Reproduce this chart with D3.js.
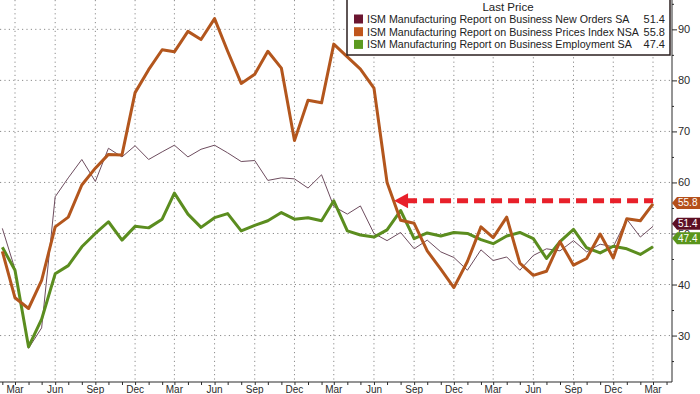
<!DOCTYPE html>
<html>
<head>
<meta charset="utf-8">
<script src="https://cdn.jsdelivr.net/npm/d3@7"></script>
<style>
  body { margin: 0; background: #fff; }
  svg { display: block; font-family: "Liberation Sans", Arial, sans-serif; }
  .grid line { stroke: #8c8c8c; stroke-dasharray: 1.2,3.2; }
  .axis text { fill: #2a2a2a; }
  .axis path, .axis line { stroke: #2a2a2a; }
</style>
</head>
<body>
<svg width="700" height="394"></svg>
<script>
// monthly readings, Feb 2020 .. Mar 2024
var startMonth = [2020, 1];

var newOrders = [
  51.0, 43.0, 27.5, 31.5, 57.2, 60.9, 64.5, 60.2, 66.7, 65.0, 67.2,
  64.5, 66.0, 67.3, 65.0, 66.5, 67.3, 65.8, 64.1, 64.3, 60.4, 60.9, 60.7,
  58.9, 61.5, 55.3, 53.8, 55.4, 50.0, 48.6, 50.2, 47.0, 48.7, 46.4, 45.3,
  42.8, 46.8, 44.7, 45.4, 42.8, 45.7, 47.0, 46.6, 48.6, 46.4, 47.9, 47.4,
  52.8, 49.3, 51.4
];

var prices = [
  46.5, 37.4, 35.3, 40.8, 51.3, 53.2, 59.5, 62.8, 65.5, 65.4, 77.6,
  82.1, 86.0, 85.6, 89.6, 88.0, 92.1, 85.7, 79.4, 81.2, 85.7, 82.4, 68.2,
  76.1, 75.6, 87.1, 84.6, 82.2, 78.5, 60.0, 52.6, 52.0, 46.6, 43.0, 39.4,
  44.5, 51.3, 49.2, 53.2, 44.2, 41.8, 42.6, 48.4, 43.8, 45.1, 49.9, 45.2,
  52.9, 52.5, 55.8
];

var employment = [
  47.3, 42.8, 27.8, 33.2, 42.1, 43.7, 47.4, 50.0, 52.3, 48.7, 51.4,
  51.1, 52.8, 57.9, 53.8, 51.2, 53.1, 53.9, 50.5, 51.6, 52.5, 54.1, 52.8,
  53.1, 52.5, 56.4, 50.5, 49.7, 49.3, 50.7, 54.5, 49.0, 50.1, 49.5, 50.2,
  50.0, 48.8, 48.0, 49.5, 50.2, 49.0, 45.1, 48.4, 50.8, 47.2, 46.2, 47.5,
  47.0, 45.9, 47.4
];

var seriesNames = [
  "ISM Manufacturing Report on Business New Orders SA",
  "ISM Manufacturing Report on Business Prices Index NSA",
  "ISM Manufacturing Report on Business Employment SA"
];
var lastPrices = ["51.4", "55.8", "47.4"];
var yTicks = [30, 40, 50, 60, 70, 80, 90];
var arrowLevel = 56.4;

var svg = d3.select("svg"),
    width = +svg.attr("width"),
    height = +svg.attr("height");

var plotRight = 672, plotBottom = 382;

var x = d3.scaleUtc()
    .domain([new Date(Date.UTC(2020, 2, 1)), new Date(Date.UTC(2024, 2, 1))])
    .range([15, 653]);

var y = d3.scaleLinear()
    .domain([20.9, 95.75])
    .range([plotBottom, 0]);

var months = newOrders.map(function(d, i) {
  return new Date(Date.UTC(startMonth[0], startMonth[1] + i, 1));
});

// Mar / Jun / Sep / Dec labels, minor tick every month
var quarters = d3.utcMonth.range(new Date(Date.UTC(2020, 2, 1)), new Date(Date.UTC(2024, 3, 1)), 3);
var allMonths = d3.utcMonth.range(new Date(Date.UTC(2020, 1, 1)), new Date(Date.UTC(2024, 4, 1)));

// grid
var grid = svg.append("g").attr("class", "grid");
grid.selectAll(".gx")
  .data(quarters)
  .enter().append("line")
    .attr("x1", function(d) { return x(d); })
    .attr("x2", function(d) { return x(d); })
    .attr("y1", 0)
    .attr("y2", plotBottom);
grid.selectAll(".gy")
  .data(yTicks)
  .enter().append("line")
    .attr("x1", 0)
    .attr("x2", plotRight)
    .attr("y1", function(d) { return y(d); })
    .attr("y2", function(d) { return y(d); });

// lines
var line = d3.line()
    .x(function(d, i) { return x(months[i]); })
    .y(function(d) { return y(d); });

svg.append("path")
    .datum(newOrders)
    .attr("fill", "none")
    .attr("stroke", "#6d4c5e")
    .attr("stroke-width", 1)
    .attr("d", line);

svg.append("path")
    .datum(employment)
    .attr("fill", "none")
    .attr("stroke", "#5b8d1f")
    .attr("stroke-width", 3)
    .attr("stroke-linejoin", "round")
    .attr("d", line);

svg.append("path")
    .datum(prices)
    .attr("fill", "none")
    .attr("stroke", "#b3561d")
    .attr("stroke-width", 3)
    .attr("stroke-linejoin", "round")
    .attr("d", line);

// red dashed arrow pointing back to mid-2022
var arrowY = y(arrowLevel),
    arrowTip = x(new Date(Date.UTC(2022, 6, 17))),
    arrowEnd = x(months[months.length - 1]);
svg.append("line")
    .attr("x1", arrowTip + 12)
    .attr("x2", arrowEnd)
    .attr("y1", arrowY)
    .attr("y2", arrowY)
    .attr("stroke", "#e8202a")
    .attr("stroke-width", 5)
    .attr("stroke-dasharray", "11,6");
svg.append("path")
    .attr("d", "M" + arrowTip + "," + arrowY + "L" + (arrowTip + 14) + "," + (arrowY - 7.5) + "L" + (arrowTip + 14) + "," + (arrowY + 7.5) + "Z")
    .attr("fill", "#e8202a");

// axes
var xAxis = svg.append("g")
    .attr("class", "axis")
    .attr("transform", "translate(0," + plotBottom + ")")
    .call(d3.axisBottom(x).tickValues(allMonths).tickSize(3).tickFormat(""));
xAxis.select(".domain").attr("d", "M0,0H" + plotRight);
xAxis.append("g").selectAll("text")
  .data(quarters)
  .enter().append("text")
    .attr("x", function(d) { return x(d); })
    .attr("y", 11)
    .attr("text-anchor", "middle")
    .attr("font-size", 10)
    .text(d3.utcFormat("%b"));

var yAxis = svg.append("g")
    .attr("class", "axis")
    .attr("transform", "translate(" + plotRight + ",0)")
    .call(d3.axisRight(y).tickValues(d3.range(25, 96, 5)).tickSize(2)
      .tickFormat(function(d) { return d % 10 === 0 ? d : ""; }));
yAxis.selectAll(".tick").filter(function(d) { return d % 10 === 0; })
    .select("line").attr("x2", 5);
yAxis.selectAll(".tick text").attr("x", 6).attr("font-size", 11).attr("font-family", null);
yAxis.select(".domain").attr("d", "M0,0V" + plotBottom);

// last value tags on the axis
var tagColors = ["#5c0f24", "#b5501a", "#5a951c"],
    tagValues = [newOrders[newOrders.length - 1], prices[prices.length - 1], employment[employment.length - 1]],
    tagNudge = [-2.5, -1, -8.5];
var tags = svg.selectAll(".tag")
  .data(tagValues)
  .enter().append("g")
    .attr("class", "tag")
    .attr("transform", function(d, i) { return "translate(" + plotRight + "," + (y(d) + tagNudge[i]) + ")"; });
tags.append("path")
    .attr("d", "M0,0L5,-6H30V6H5Z")
    .attr("fill", function(d, i) { return tagColors[i]; });
tags.append("text")
    .attr("x", 6)
    .attr("y", 3.6)
    .attr("font-size", 10)
    .attr("fill", "#fff")
    .text(function(d, i) { return lastPrices[i]; });

// legend
var legend = svg.append("g").attr("transform", "translate(347,0)");
legend.append("rect")
    .attr("x", 0)
    .attr("y", -3)
    .attr("width", 323)
    .attr("height", 58)
    .attr("fill", "#fff")
    .attr("stroke", "#2b1f1f")
    .attr("stroke-width", 1.5);
legend.append("text")
    .attr("x", 161)
    .attr("y", 11)
    .attr("text-anchor", "middle")
    .attr("font-size", 11.5)
    .attr("fill", "#222")
    .text("Last Price");
var rows = legend.selectAll(".row")
  .data(seriesNames)
  .enter().append("g")
    .attr("transform", function(d, i) { return "translate(0," + (19 + i * 12.7) + ")"; });
rows.append("rect")
    .attr("x", 7)
    .attr("y", -4.5)
    .attr("width", 9)
    .attr("height", 9)
    .attr("fill", function(d, i) { return ["#6b1530", "#c0561c", "#5c9a1f"][i]; });
var names = rows.append("text")
    .attr("x", 20)
    .attr("y", 4)
    .attr("font-size", 11.2)
    .attr("fill", "#222")
    .text(function(d) { return d; });
// fit the longest name into the width it takes in the original
var widest = d3.max(names.nodes(), function(n) { return n.getComputedTextLength(); });
names.attr("font-size", 11.2 * 272 / widest);
rows.append("text")
    .attr("x", 318)
    .attr("y", 4)
    .attr("font-size", 11)
    .attr("text-anchor", "end")
    .attr("fill", "#222")
    .text(function(d, i) { return lastPrices[i]; });
</script>
</body>
</html>
